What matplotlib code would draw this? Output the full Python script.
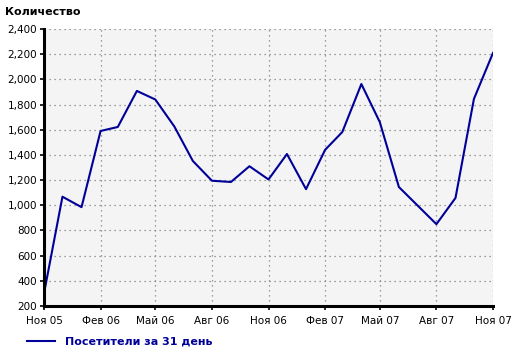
import numpy as np
import pandas as pd
import matplotlib
matplotlib.use('Agg')
import matplotlib.pyplot as plt
import matplotlib.dates as mdates
from matplotlib.ticker import FuncFormatter, FixedLocator

# Data (Jul 07 has no point)
months = ['2005-11', '2005-12', '2006-01', '2006-02', '2006-03', '2006-04',
          '2006-05', '2006-06', '2006-07', '2006-08', '2006-09', '2006-10',
          '2006-11', '2006-12', '2007-01', '2007-02', '2007-03', '2007-04',
          '2007-05', '2007-06', '2007-08', '2007-09', '2007-10', '2007-11']
visitors = [300, 1068, 985, 1590, 1622, 1908, 1840, 1625, 1352, 1195,
            1185, 1310, 1205, 1407, 1128, 1440, 1582, 1963, 1660, 1145,
            850, 1058, 1845, 2210]
tick_months = ['2005-11', '2006-02', '2006-05', '2006-08', '2006-11',
               '2007-02', '2007-05', '2007-08', '2007-11']
tick_labels = ['Ноя 05', 'Фев 06', 'Май 06', 'Авг 06', 'Ноя 06',
               'Фев 07', 'Май 07', 'Авг 07', 'Ноя 07']
y_ticks = [200, 400, 600, 800, 1000, 1200, 1400, 1600, 1800, 2000, 2200, 2400]

dates = pd.to_datetime(months)
tick_dates = pd.to_datetime(tick_months)

plt.rcParams['font.family'] = ['DejaVu Sans']
navy = '#000099'

fig = plt.figure(figsize=(5.2, 3.53), dpi=100)
ax = fig.add_axes([44 / 520, 1 - 306 / 353, (493 - 44) / 520, (306 - 29) / 353])
ax.set_facecolor('#f4f4f4')

ax.plot(dates, visitors, color=navy, lw=1.5)

ax.set_xlim(tick_dates[0], tick_dates[-1])
ax.set_ylim(200, 2400)
ax.xaxis.set_major_locator(FixedLocator(mdates.date2num(tick_dates)))
ax.set_xticklabels(tick_labels)
ax.set_yticks(y_ticks)
ax.yaxis.set_major_formatter(FuncFormatter(lambda v, p: f'{int(v):,}'))

ax.grid(True, color='#808080', linestyle=(0, (1, 3)), lw=0.9)
for s in ['top', 'right']:
    ax.spines[s].set_visible(False)
for s in ['left', 'bottom']:
    ax.spines[s].set_linewidth(2.2)
ax.tick_params(axis='both', length=3, width=1.2, labelsize=7.5, pad=2)
ax.tick_params(axis='x', pad=4)

fig.text(5 / 520, 1 - 12 / 353, 'Количество', fontsize=8, fontweight='bold',
         va='center', ha='left')

# legend
fig.lines.append(plt.Line2D([27 / 520, 55 / 520], [1 - 341 / 353] * 2,
                            color=navy, lw=1.5, transform=fig.transFigure))
fig.text(65 / 520, 1 - 341 / 353, 'Посетители за 31 день', fontsize=8,
         fontweight='bold', color=navy, va='center', ha='left')

fig.savefig('out.png', dpi=100)
